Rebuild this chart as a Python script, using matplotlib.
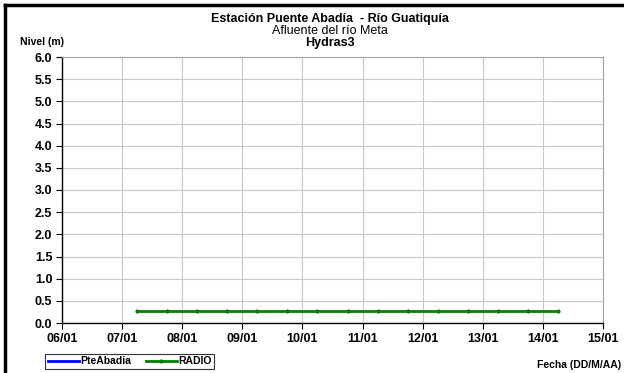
import matplotlib.pyplot as plt
import numpy as np
from matplotlib.lines import Line2D

plt.rcParams['font.family'] = ['Liberation Sans', 'DejaVu Sans']

day_labels = ['06/01', '07/01', '08/01', '09/01', '10/01', '11/01', '12/01', '13/01', '14/01', '15/01']
yticks = [0.0, 0.5, 1.0, 1.5, 2.0, 2.5, 3.0, 3.5, 4.0, 4.5, 5.0, 5.5, 6.0]

# days since 06/01 00:00
radio_t = [1.25, 1.75, 2.25, 2.75, 3.25, 3.75, 4.25, 4.75, 5.25, 5.75, 6.25, 6.75, 7.25, 7.75, 8.25]
radio_lvl = [0.26, 0.26, 0.26, 0.26, 0.26, 0.26, 0.26, 0.26, 0.26, 0.26, 0.26, 0.26, 0.26, 0.26, 0.26]
pte_t = []
pte_lvl = []

fig = plt.figure(figsize=(6.24, 3.73), dpi=100)
ax = fig.add_axes([62/624, 1-323/373, (603-62)/624, (323-57)/373])

ax.plot(pte_t, pte_lvl, color='#0000ff', lw=2, label='PteAbadia')
ax.plot(radio_t, radio_lvl, color='#008000', lw=2, marker='o', ms=2, label='RADIO')

ax.set_xlim(0, 9)
ax.set_ylim(0, 6)
ax.set_xticks(range(len(day_labels)))
ax.set_xticklabels(day_labels)
ax.set_yticks(yticks)
ax.set_yticklabels(['%.1f' % v for v in yticks])
ax.tick_params(labelsize=9, length=4, width=0.8, pad=3)
for lab in ax.get_xticklabels() + ax.get_yticklabels():
    lab.set_fontweight('bold')
ax.grid(True, color='#c8c8c8', lw=0.8)
ax.set_axisbelow(True)
ax.spines['top'].set_color('#a0a0a0')
ax.spines['right'].set_color('#a0a0a0')
ax.spines['left'].set_linewidth(1)
ax.spines['bottom'].set_linewidth(1)

fig.text(330/624, 1-19/373, 'Estación Puente Abadía  - Río Guatiquía', ha='center', va='center',
         fontsize=9, fontweight='bold')
fig.text(330/624, 1-31.5/373, 'Afluente del río Meta', ha='center', va='center', fontsize=9)
fig.text(330/624, 1-43/373, 'Hydras3', ha='center', va='center', fontsize=9, fontweight='bold')
fig.text(20/624, 1-42/373, 'Nivel (m)', ha='left', va='center', fontsize=7.5, fontweight='bold')
fig.text(621/624, 1-365/373, 'Fecha (DD/M/AA)', ha='right', va='center', fontsize=7.5, fontweight='bold')

leg = fig.legend(loc='center', bbox_to_anchor=(129.5/624, 1-361.5/373), ncol=2, fontsize=7.5,
                 frameon=True, fancybox=False, edgecolor='black', handlelength=3,
                 columnspacing=1.4, borderpad=0.25, handletextpad=0.1, borderaxespad=0)
leg.get_frame().set_linewidth(0.8)
for t in leg.get_texts():
    t.set_fontweight('bold')

# outer frame (top and left only)
fig.add_artist(Line2D([5/624, 5/624], [0, 1-5/373], color='black', lw=2.5))
fig.add_artist(Line2D([5/624, 1], [1-5/373, 1-5/373], color='black', lw=2.5))

fig.savefig('out.png', dpi=100)
